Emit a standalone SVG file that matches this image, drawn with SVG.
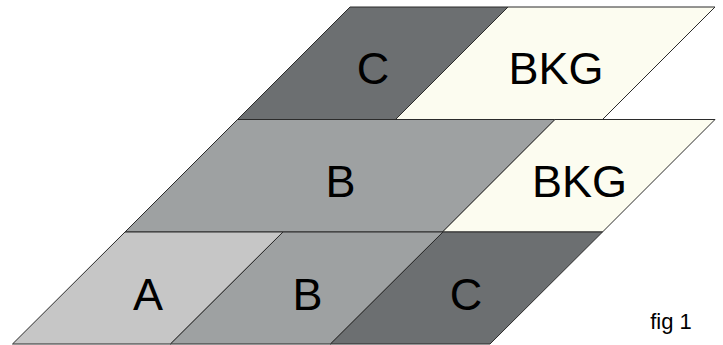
<svg xmlns="http://www.w3.org/2000/svg" width="723" height="345" viewBox="0 0 723 345">
<style>
.t{stroke:#2b2b2b;stroke-width:1;stroke-linejoin:miter}
.a{fill:#c6c6c6}
.b{fill:#9ea1a2}
.c{fill:#6c6f71}
.k{fill:#fcfcf0}
text{font-family:"Liberation Sans",Arial,sans-serif;fill:#000;text-anchor:middle}
.l{font-size:45px}
.f{font-size:22px}
</style>
<rect width="723" height="345" fill="#fff"/>
<g id="top-C"><polygon class="t c" points="350,7 508,7 395.5,119.5 237.5,119.5"/><text class="l" x="373" y="84">C</text></g>
<g id="top-BKG"><polygon class="t k" points="508,7 715,7 602.5,119.5 395.5,119.5"/><text class="l" x="556" y="84">BKG</text></g>
<g id="mid-B"><polygon class="t b" points="237.5,119.5 555,119.5 442.5,232 125,232"/><text class="l" x="340.5" y="197">B</text></g>
<g id="mid-BKG"><polygon class="t k" points="555,119.5 715,119.5 602.5,232 442.5,232"/><text class="l" x="579.5" y="197">BKG</text></g>
<g id="bot-A"><polygon class="t a" points="125,232 283,232 170.5,344 12.5,344"/><text class="l" x="148" y="310">A</text></g>
<g id="bot-B"><polygon class="t b" points="283,232 443,232 330.5,344 170.5,344"/><text class="l" x="307.5" y="310">B</text></g>
<g id="bot-C"><polygon class="t c" points="443,232 602.5,232 490,344 330.5,344"/><text class="l" x="466" y="310">C</text></g>
<g id="connectors"></g>
<text class="f" x="671" y="329">fig 1</text>
</svg>
